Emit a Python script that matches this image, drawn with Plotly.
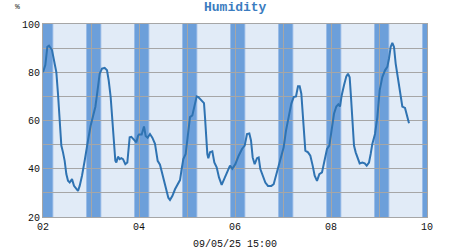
import plotly.graph_objects as go
import pandas as pd

# ---- data ----
times = [
    "2025-05-02 00:00", "2025-05-02 01:10", "2025-05-02 02:10", "2025-05-02 03:00", "2025-05-02 04:30",
    "2025-05-02 05:50", "2025-05-02 06:40", "2025-05-02 07:30", "2025-05-02 08:20", "2025-05-02 09:10",
    "2025-05-02 10:00", "2025-05-02 10:50", "2025-05-02 11:40", "2025-05-02 12:30", "2025-05-02 13:20",
    "2025-05-02 14:30", "2025-05-02 15:30", "2025-05-02 16:40", "2025-05-02 17:30", "2025-05-02 18:20",
    "2025-05-02 19:30", "2025-05-02 20:50", "2025-05-02 21:40", "2025-05-02 22:30", "2025-05-02 23:50",
    "2025-05-03 01:00", "2025-05-03 02:10", "2025-05-03 03:10", "2025-05-03 04:20", "2025-05-03 05:30",
    "2025-05-03 06:50", "2025-05-03 08:00", "2025-05-03 08:50", "2025-05-03 09:50", "2025-05-03 10:40",
    "2025-05-03 11:30", "2025-05-03 12:10", "2025-05-03 12:40", "2025-05-03 13:30", "2025-05-03 14:20",
    "2025-05-03 15:10", "2025-05-03 16:00", "2025-05-03 17:10", "2025-05-03 18:10", "2025-05-03 19:20",
    "2025-05-03 20:10", "2025-05-03 21:50", "2025-05-03 22:40", "2025-05-03 23:30",
    "2025-05-04 00:00", "2025-05-04 01:20", "2025-05-04 02:30", "2025-05-04 03:20", "2025-05-04 04:20",
    "2025-05-04 05:30", "2025-05-04 06:40", "2025-05-04 08:00", "2025-05-04 09:20", "2025-05-04 10:30",
    "2025-05-04 11:40", "2025-05-04 12:40", "2025-05-04 13:50", "2025-05-04 14:40", "2025-05-04 15:30",
    "2025-05-04 16:40", "2025-05-04 18:00", "2025-05-04 19:20", "2025-05-04 20:30", "2025-05-04 21:20",
    "2025-05-04 22:10", "2025-05-04 23:20",
    "2025-05-05 00:20", "2025-05-05 01:30", "2025-05-05 02:40", "2025-05-05 03:40", "2025-05-05 04:50",
    "2025-05-05 05:40", "2025-05-05 07:00", "2025-05-05 08:30", "2025-05-05 09:00", "2025-05-05 09:30",
    "2025-05-05 10:10", "2025-05-05 10:40", "2025-05-05 11:30", "2025-05-05 12:40", "2025-05-05 13:40",
    "2025-05-05 14:50", "2025-05-05 16:00", "2025-05-05 17:20", "2025-05-05 18:40", "2025-05-05 20:20",
    "2025-05-05 21:30", "2025-05-05 22:40",
    "2025-05-06 00:10", "2025-05-06 01:50", "2025-05-06 03:30", "2025-05-06 04:50", "2025-05-06 06:00",
    "2025-05-06 07:10", "2025-05-06 08:00", "2025-05-06 08:50", "2025-05-06 09:50", "2025-05-06 11:00",
    "2025-05-06 11:50", "2025-05-06 12:40", "2025-05-06 13:50", "2025-05-06 15:10", "2025-05-06 16:30",
    "2025-05-06 18:10", "2025-05-06 19:20", "2025-05-06 20:30", "2025-05-06 21:50", "2025-05-06 23:10",
    "2025-05-07 00:20", "2025-05-07 01:30", "2025-05-07 02:50", "2025-05-07 04:10", "2025-05-07 05:20",
    "2025-05-07 06:30", "2025-05-07 07:30", "2025-05-07 08:20", "2025-05-07 09:10", "2025-05-07 10:00",
    "2025-05-07 11:10", "2025-05-07 12:30", "2025-05-07 13:40", "2025-05-07 14:50", "2025-05-07 15:50",
    "2025-05-07 17:00", "2025-05-07 18:10", "2025-05-07 19:30", "2025-05-07 20:50", "2025-05-07 22:00",
    "2025-05-07 23:10",
    "2025-05-08 00:20", "2025-05-08 01:30", "2025-05-08 02:40", "2025-05-08 03:40", "2025-05-08 04:30",
    "2025-05-08 05:20", "2025-05-08 06:30", "2025-05-08 07:40", "2025-05-08 08:30", "2025-05-08 09:20",
    "2025-05-08 10:00", "2025-05-08 10:40", "2025-05-08 11:30", "2025-05-08 12:20", "2025-05-08 13:10",
    "2025-05-08 14:20", "2025-05-08 15:40", "2025-05-08 16:50", "2025-05-08 17:50", "2025-05-08 19:00",
    "2025-05-08 19:50", "2025-05-08 20:40", "2025-05-08 22:00", "2025-05-08 23:10",
    "2025-05-09 00:20", "2025-05-09 01:40", "2025-05-09 03:00", "2025-05-09 04:10", "2025-05-09 05:00",
    "2025-05-09 05:50", "2025-05-09 06:40", "2025-05-09 07:30", "2025-05-09 08:20", "2025-05-09 09:40",
    "2025-05-09 10:50", "2025-05-09 11:40", "2025-05-09 13:00", "2025-05-09 13:50", "2025-05-09 15:00",
]
humidity = [
    80.0, 83.0, 90.5, 91.0, 89.2,
    83.6, 80.0, 71.0, 60.0, 49.6,
    46.8, 43.3, 37.8, 35.0, 34.3,
    35.7, 32.9, 31.5, 30.8, 32.9,
    37.1, 43.3, 48.2, 51.7, 57.9,
    62.1, 65.6, 71.8, 79.4, 81.5,
    81.8, 80.8, 76.7, 69.7, 60.0,
    50.3, 43.3, 42.6, 45.0, 44.0,
    44.4, 44.0, 41.9, 42.6, 53.0,
    53.2, 51.7, 51.0, 53.6,
    54.2, 54.2, 57.5, 53.6, 52.9,
    54.4, 52.9, 50.3, 43.3, 41.7,
    37.8, 35.0, 30.8, 28.0, 27.1,
    28.7, 31.5, 33.9, 35.3, 39.9,
    44.0, 46.1,
    53.0, 61.4, 62.1, 66.3, 70.0,
    69.7, 68.3, 67.2, 61.4, 53.0,
    46.1, 44.4, 46.8, 47.2, 42.6,
    40.6, 36.4, 33.3, 35.7, 38.9,
    41.3, 40.0,
    41.9, 45.4, 48.2, 49.6, 54.4,
    54.6, 51.7, 44.7, 41.9, 44.4,
    44.7, 39.9, 37.1, 34.3, 32.9,
    32.9, 33.6, 37.1, 40.6, 44.7,
    48.9, 55.8, 61.4, 67.0, 69.7,
    70.0, 74.2, 74.2, 71.1, 60.0,
    47.5, 46.8, 45.4, 41.3, 37.1,
    35.0, 37.8, 38.5, 43.3, 48.2,
    49.6,
    56.5, 62.8, 65.8, 66.7, 65.8,
    70.4, 74.6, 78.3, 79.4, 77.9,
    69.7, 60.0, 49.6, 46.8, 44.7,
    42.2, 42.6, 42.2, 41.3, 42.6,
    46.1, 50.3, 54.4, 61.4,
    72.5, 78.0, 80.8, 82.2, 85.7,
    90.5, 92.2, 90.5, 83.6, 76.0,
    70.4, 65.8, 65.2, 62.1, 58.9,
]
night_days = ["2025-05-01", "2025-05-02", "2025-05-03", "2025-05-04", "2025-05-05",
              "2025-05-06", "2025-05-07", "2025-05-08", "2025-05-09"]
dusk_start, night_start, night_end, dawn_end = "21:30", "22:00", "04:40", "05:10"
x_range = ["2025-05-02", "2025-05-10"]
y_range = [20, 100]
title_text = "Humidity"
unit_text = "%"
footer_text = "09/05/25 15:00"

BG = "#E1EBF7"
BAND = "#6C9FDA"
BAND_EDGE = "#9ABCE7"
LINE = "#2F73B2"
GRID = "#A6A6A6"
FONT = "Liberation Mono"

fig = go.Figure()
fig.add_trace(go.Scatter(
    x=pd.to_datetime(times), y=humidity, mode="lines",
    line=dict(color=LINE, width=2), hoverinfo="skip", showlegend=False,
))

shapes = []
for d in night_days:
    day = pd.Timestamp(d)
    nxt = day + pd.Timedelta(days=1)
    shapes.append(dict(type="rect", xref="x", yref="y", layer="below",
                       x0=f"{day:%Y-%m-%d} {dusk_start}", x1=f"{nxt:%Y-%m-%d} {dawn_end}",
                       y0=y_range[0], y1=y_range[1], fillcolor=BAND_EDGE, line_width=0))
    shapes.append(dict(type="rect", xref="x", yref="y", layer="below",
                       x0=f"{day:%Y-%m-%d} {night_start}", x1=f"{nxt:%Y-%m-%d} {night_end}",
                       y0=y_range[0], y1=y_range[1], fillcolor=BAND, line_width=0))

fig.update_layout(
    width=450, height=250,
    margin=dict(l=43, r=23, t=24, b=33),
    paper_bgcolor="white", plot_bgcolor=BG,
    shapes=shapes,
    font=dict(family=FONT, size=10, color="#111111"),
    annotations=[
        dict(text=f"<b>{title_text}</b>", xref="paper", yref="paper", x=0.5, y=1,
             yshift=17, showarrow=False, font=dict(family=FONT, size=13, color="#3B7CC0"),
             xanchor="center", yanchor="middle"),
        dict(text=unit_text, xref="paper", yref="paper", x=0, xshift=-30, y=1, yshift=18,
             showarrow=False, font=dict(family=FONT, size=8, color="#222222"),
             xanchor="left", yanchor="middle"),
        dict(text=footer_text, xref="paper", yref="paper", x=0.5, y=0, yshift=-27,
             showarrow=False, font=dict(family=FONT, size=10, color="#111111"),
             xanchor="center", yanchor="middle"),
    ],
)
fig.update_xaxes(
    type="date", range=x_range, dtick=2 * 86400000, tick0="2025-05-02", tickformat="%d",
    showgrid=True, gridcolor=GRID, gridwidth=1,
    minor=dict(dtick=86400000, tick0="2025-05-02", showgrid=True, gridcolor=GRID, gridwidth=1),
    showline=True, linecolor=GRID, linewidth=1, mirror=True,
    ticks="", zeroline=False, fixedrange=True,
)
fig.update_yaxes(
    range=y_range, dtick=20, tick0=20,
    showgrid=True, gridcolor=GRID, gridwidth=1,
    minor=dict(dtick=10, showgrid=True, gridcolor=GRID, gridwidth=1),
    showline=True, linecolor=GRID, linewidth=1, mirror=True,
    ticks="", zeroline=False, fixedrange=True,
)

fig.write_html("out.html", config={"displayModeBar": False})
